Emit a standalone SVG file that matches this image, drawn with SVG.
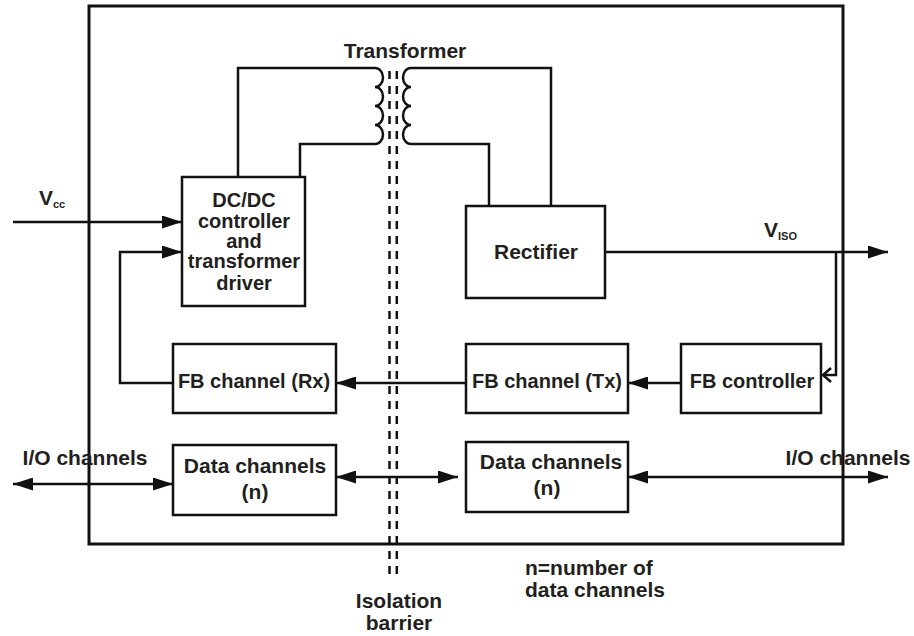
<svg xmlns="http://www.w3.org/2000/svg" width="914" height="636" viewBox="0 0 914 636">
<style>
.box{fill:#fff;stroke:#111;stroke-width:2.5}
.ln{fill:none;stroke:#111;stroke-width:2.5}
.bar{fill:none;stroke:#111;stroke-width:2.5;stroke-dasharray:8 7}
.t{font-family:"Liberation Sans",Arial,sans-serif;font-weight:bold;font-size:20px;fill:#231f20;text-anchor:middle}
.s{font-family:"Liberation Sans",Arial,sans-serif;font-weight:bold;font-size:11px;fill:#231f20}
</style>
<defs>
<marker id="ah" markerUnits="userSpaceOnUse" markerWidth="20" markerHeight="13" refX="20" refY="6.5" orient="auto-start-reverse">
<path d="M0,0 L20,6.5 L0,13 z" fill="#111"/>
</marker>
</defs>
<rect id="frame" x="89" y="6" width="754" height="538" fill="none" stroke="#111" stroke-width="3"/>
<g id="barrier">
<line class="bar" x1="389.5" y1="71" x2="389.5" y2="578"/>
<line class="bar" x1="396.8" y1="71" x2="396.8" y2="578"/>
</g>
<g id="connectors">
<path class="ln" d="M238,177 V68 H375 a8,9.5 0 0 1 0,19 a8,9.5 0 0 1 0,19 a8,9.5 0 0 1 0,19 a8,9.5 0 0 1 0,19 H300 V177"/>
<path class="ln" d="M551,206 V68 H411 a8,9.5 0 0 0 0,19 a8,9.5 0 0 0 0,19 a8,9.5 0 0 0 0,19 a8,9.5 0 0 0 0,19 H489 V206"/>
<line class="ln" x1="13" y1="222" x2="182" y2="222" marker-end="url(#ah)"/>
<path class="ln" d="M173,383 H120 V252 H182" marker-end="url(#ah)"/>
<line class="ln" x1="605" y1="252" x2="888" y2="252" marker-end="url(#ah)"/>
<path class="ln" d="M836,252 V375 H823"/>
<path class="ln" d="M831,368 L823,375 L831,382"/>
<line class="ln" x1="681" y1="383" x2="628" y2="383" marker-end="url(#ah)"/>
<line class="ln" x1="466" y1="383" x2="336" y2="383" marker-end="url(#ah)"/>
<line class="ln" x1="13" y1="484" x2="173" y2="484" marker-start="url(#ah)" marker-end="url(#ah)"/>
<line class="ln" x1="336" y1="477" x2="458" y2="477" marker-start="url(#ah)" marker-end="url(#ah)"/>
<line class="ln" x1="628" y1="477" x2="888" y2="477" marker-start="url(#ah)" marker-end="url(#ah)"/>
</g>
<g id="dcdc">
<rect class="box" x="182" y="177" width="123" height="129"/>
<text class="t" x="244" y="207">DC/DC</text>
<text class="t" x="244" y="228">controller</text>
<text class="t" x="244" y="248">and</text>
<text class="t" x="244" y="268">transformer</text>
<text class="t" x="244" y="290">driver</text>
</g>
<g id="rectifier">
<rect class="box" x="466" y="206" width="139" height="92"/>
<text class="t" x="536" y="259" style="font-size:21px">Rectifier</text>
</g>
<g id="fbrx">
<rect class="box" x="173" y="344" width="163" height="69"/>
<text class="t" x="254" y="388">FB channel (Rx)</text>
</g>
<g id="fbtx">
<rect class="box" x="466" y="344" width="162" height="69"/>
<text class="t" x="547" y="388">FB channel (Tx)</text>
</g>
<g id="fbctrl">
<rect class="box" x="681" y="344" width="140" height="69"/>
<text class="t" x="752" y="388">FB controller</text>
</g>
<g id="dataL">
<rect class="box" x="173" y="445" width="163" height="70"/>
<text class="t" x="255" y="473" style="font-size:21px">Data channels</text>
<text class="t" x="255" y="499" style="font-size:21px">(n)</text>
</g>
<g id="dataR">
<rect class="box" x="466" y="442" width="162" height="70"/>
<text class="t" x="551" y="469" style="font-size:21px">Data channels</text>
<text class="t" x="547" y="495" style="font-size:21px">(n)</text>
</g>
<g id="labels">
<text class="t" x="405" y="58" style="font-size:21px">Transformer</text>
<text class="t" x="46" y="205" style="font-size:21px">V</text>
<text class="s" x="53" y="208">cc</text>
<text class="t" x="771" y="237" style="font-size:21px">V</text>
<text class="s" x="778" y="240">ISO</text>
<text class="t" x="85" y="465" style="font-size:21px">I/O channels</text>
<text class="t" x="848" y="465" style="font-size:21px">I/O channels</text>
<text class="t" x="399" y="608" style="font-size:21px">Isolation</text>
<text class="t" x="399" y="630" style="font-size:21px">barrier</text>
<text class="t" x="525" y="575" style="font-size:21px;text-anchor:start">n=number of</text>
<text class="t" x="525" y="597" style="font-size:21px;text-anchor:start">data channels</text>
</g>
</svg>
